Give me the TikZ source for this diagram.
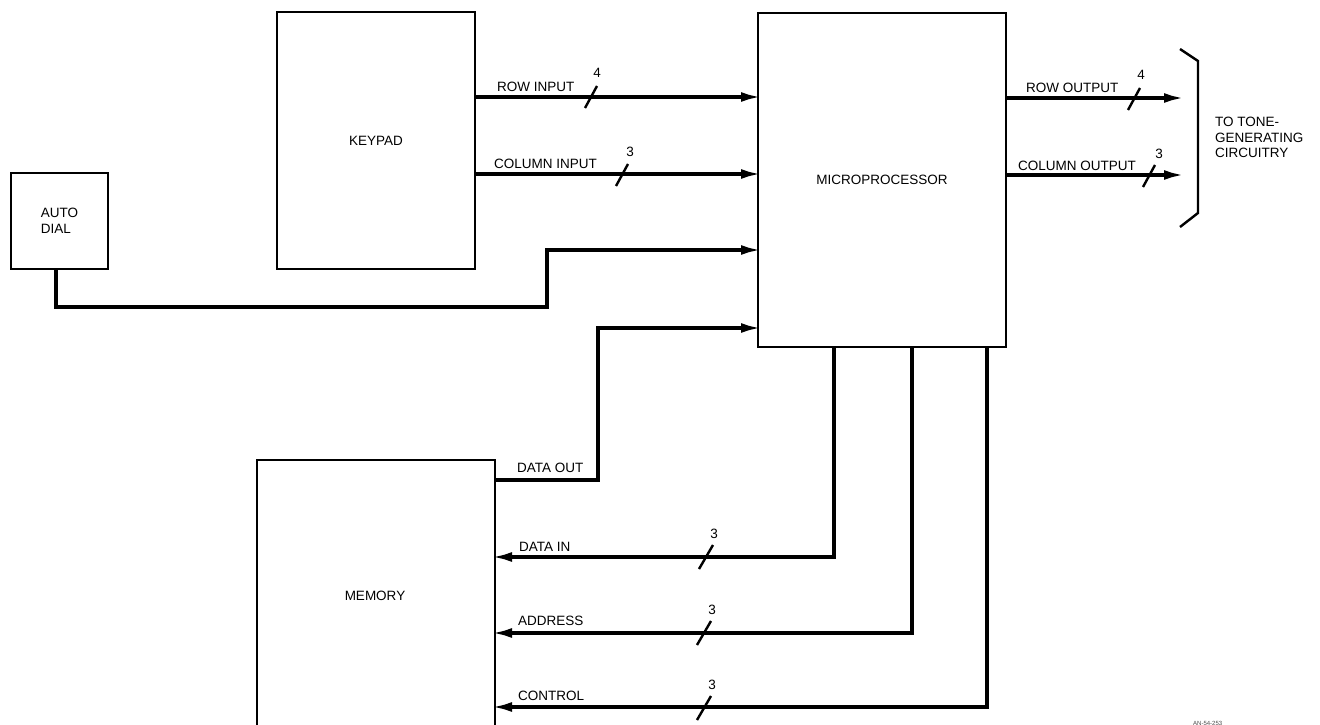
\documentclass[tikz,border=0pt]{standalone}
\usepackage{fontspec}
\setmainfont{Liberation Sans}
\usetikzlibrary{arrows.meta}
\begin{document}
\begin{tikzpicture}[x=1pt,y=-1pt,
  box/.style={draw, line width=2.4pt, inner sep=0pt, outer sep=0pt, rectangle, font=\fontsize{13.5}{15.5}\selectfont},
  bus/.style={line width=3.4pt, line join=miter, -{Latex[length=20pt,width=10pt]}},
  tobox/.style={shorten >=-3pt},
  lbl/.style={font=\fontsize{13.5}{15.5}\selectfont, inner sep=0pt},
  tick/.style={line width=2.4pt},
]
\clip (0,0) rectangle (1320,725);
\fill[white] (0,0) rectangle (1320,725);

% blocks
\node[box, minimum width=198pt, minimum height=257pt] (keypad) at (376,140.5) {KEYPAD};
\node[box, minimum width=248pt, minimum height=334pt] (mp) at (882,180) {MICROPROCESSOR};
\node[box, minimum width=97pt, minimum height=96pt, align=left] (auto) at (59.5,221) {AUTO\\DIAL};
\node[box, minimum width=238pt, minimum height=285pt] (mem) at (376,602.5) {};
\node[lbl] (memlbl) at (375,596) {MEMORY};

% helper coordinates
\coordinate (yRI) at (0,97);
\coordinate (yCI) at (0,174);
\coordinate (yAD) at (0,250);
\coordinate (yDOin) at (0,328);
\coordinate (yDO) at (0,480);
\coordinate (yDI) at (0,557);
\coordinate (yAR) at (0,633);
\coordinate (yCT) at (0,707);
\coordinate (xAD) at (56,0);
\coordinate (xDI) at (834,0);
\coordinate (xAR) at (912,0);
\coordinate (xCT) at (987,0);
\coordinate (roEnd) at (1184,98);
\coordinate (coEnd) at (1184,175);
\coordinate (adA) at (56,307);
\coordinate (adB) at (547,307);
\coordinate (adC) at (547,250);
\coordinate (doA) at (598,480);
\coordinate (doB) at (598,328);

% keypad -> microprocessor
\draw[bus, tobox] (keypad.east |- yRI) -- (mp.west |- yRI);
\draw[bus, tobox] (keypad.east |- yCI) -- (mp.west |- yCI);
\node[lbl, anchor=west] (lri) at (497,87) {ROW INPUT};
\node[lbl, anchor=west] (lci) at (494,164) {COLUMN INPUT};
\draw[tick] (591,97) ++(-6,11) -- ++(12,-22);
\node[lbl] (nri) at (597,73) {4};
\draw[tick] (622,175) ++(-6,11) -- ++(12,-22);
\node[lbl] (nci) at (630,152) {3};

% auto dial -> microprocessor
\draw[bus, tobox] (auto.south -| xAD) -- (adA) -- (adB) -- (adC) -- (mp.west |- yAD);

% memory data out -> microprocessor
\draw[bus, tobox] (mem.east |- yDO) -- (doA) -- (doB) -- (mp.west |- yDOin);
\node[lbl, anchor=west] (ldo) at (517,468) {DATA OUT};

% microprocessor -> memory
\draw[bus, tobox] (mp.south -| xDI) |- (mem.east |- yDI);
\draw[bus, tobox] (mp.south -| xAR) |- (mem.east |- yAR);
\draw[bus, tobox] (mp.south -| xCT) |- (mem.east |- yCT);
\node[lbl, anchor=west] (ldi) at (519,547) {DATA IN};
\node[lbl, anchor=west] (lar) at (518,621) {ADDRESS};
\node[lbl, anchor=west] (lct) at (518,696) {CONTROL};
\draw[tick] (706,557) ++(-7,12) -- ++(14,-24);
\node[lbl] (ndi) at (714,534) {3};
\draw[tick] (704,633) ++(-7,12) -- ++(14,-24);
\node[lbl] (nar) at (712,610) {3};
\draw[tick] (704,708) ++(-7,12) -- ++(14,-24);
\node[lbl] (nct) at (712,685) {3};

% outputs
\draw[bus] (mp.east |- roEnd) -- (roEnd);
\draw[bus] (mp.east |- coEnd) -- (coEnd);
\node[lbl, anchor=west] (lro) at (1026,88) {ROW OUTPUT};
\node[lbl, anchor=west] (lco) at (1018,166) {COLUMN OUTPUT};
\draw[tick] (1134,99) ++(-6,11) -- ++(12,-22);
\node[lbl] (nro) at (1141,75) {4};
\draw[tick] (1149,176) ++(-6,11) -- ++(12,-22);
\node[lbl] (nco) at (1159,154) {3};

% bracket
\draw[line width=2.4pt] (1180,49) -- (1198,61) -- (1198,213) -- (1180,227);
\node[lbl, anchor=north west, align=left] (tone) at (1215,117) {TO TONE-\\GENERATING\\CIRCUITRY};

\node[font=\fontsize{6}{7}\selectfont, inner sep=0pt, anchor=west, text=black!70] (ref) at (1193,723) {AN-54-253};
\end{tikzpicture}
\end{document}
